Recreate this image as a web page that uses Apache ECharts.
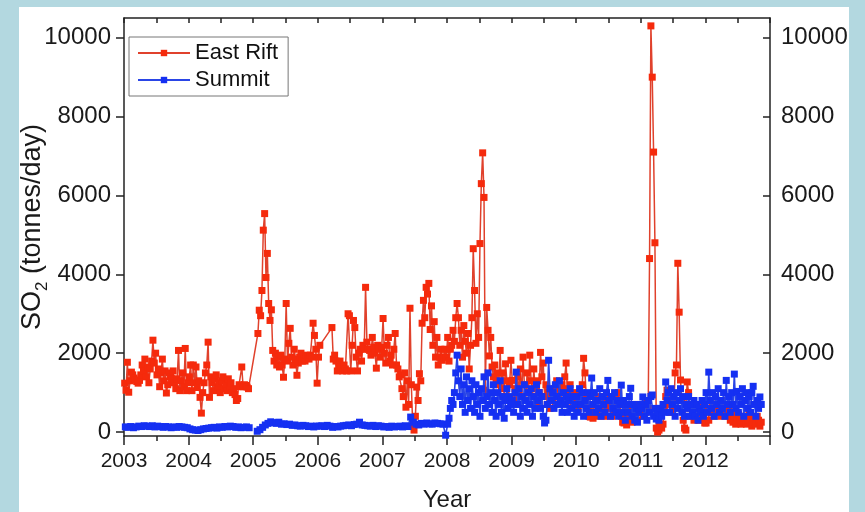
<!DOCTYPE html>
<html><head><meta charset="utf-8">
<script src="https://cdn.jsdelivr.net/npm/echarts@6/dist/echarts.min.js"></script>
<style>html,body{margin:0;padding:0;background:#b3d8e0}#c{width:865px;height:512px}</style>
</head><body><div id="c"></div>
<script>
// ---- Data ----
const years = [2003, 2004, 2005, 2006, 2007, 2008, 2009, 2010, 2011, 2012];
const yTickValues = [0, 2000, 4000, 6000, 8000, 10000];
const seriesNames = ['East Rift', 'Summit'];

// East Rift: 48 samples per year (null = no measurement, line bridges the gap)
const erPerYear = 48;
const er2003 = [1240,1060,1770,1010,1300,1520,1450,1370,1320,1280,1240,1310,1450,1700,1550,1850,1400,1650,1250,1600,1800,2330,1750,2000,1450,1600,1150,1500,1850,1300,1550,990,1200,1500,1400,1350,1550,1250,1100,1350,2070,1050,1300,1500,1150,2120,1050,1250];
const er2004 = [1400,1700,1050,1700,1250,1650,1130,1300,880,480,1000,1250,1500,1700,2280,880,1400,1250,1050,1350,1450,1150,1250,1000,1300,1400,1100,1200,1050,1350,1150,1250,1000,1100,950,800,850,1200,1150,1650,1150,1200,1180,1140,1100,null,null,null];
const er2005 = [null,null,null,2500,3090,2950,3590,5120,5540,3920,4530,3260,2830,3100,2070,1800,2000,1700,1900,1650,1950,1700,1390,1850,3260,1800,2250,2630,1900,1700,2100,1850,1440,1750,1900,2000,1800,1850,1800,1950,1900,1850,1950,1900,2760,2450,2100,1240];
const er2006 = [1900,2200,null,null,null,null,null,null,null,null,2650,1850,1950,1800,1550,1700,1800,1650,1550,1700,1600,1550,3000,2950,1550,2200,2830,2650,1900,1550,2000,2100,1800,2200,2100,3670,2280,2100,2070,1950,2400,2150,2000,1620,2200,2100,1900,2150];
const er2007 = [2880,2000,1750,2200,2400,1800,1950,1700,2100,2500,1700,1600,1400,1450,1100,900,1500,630,1300,700,3140,1200,200,50,400,1140,800,1480,1300,2760,3340,2900,3670,3500,3770,2600,3200,2200,2800,1900,2400,1700,1900,2100,1820,1900,2100,1900];
const er2008 = [2400,1800,2100,2200,2580,2300,2900,3260,2900,2200,2580,1900,2700,2300,2000,2500,1600,2200,2900,4650,3590,2250,3000,2400,4780,6300,7080,5950,1060,3160,2580,1930,2400,1650,1400,1700,1300,1500,1200,2070,1100,1500,900,1730,1300,800,1200,1820];
const er2009 = [1310,800,1100,700,1400,1000,1600,900,1900,1200,800,1500,1000,1950,1300,900,1600,1100,700,1300,1000,2020,1400,1750,900,1200,700,1000,600,900,800,1100,700,1300,900,1100,800,1200,1100,1400,1750,1000,800,1200,900,700,1000,800];
const er2010 = [900,600,1000,700,1200,1870,1500,900,600,400,380,700,350,900,500,800,400,600,900,500,700,400,800,600,900,700,400,800,500,900,600,1000,700,400,250,230,400,180,600,300,500,250,700,400,600,300,500,700];
const er2011 = [600,400,700,500,800,600,4400,10300,9000,7100,4800,100,0,50,150,100,200,600,900,1060,700,900,500,800,600,1500,1700,4280,3040,1320,800,300,100,50,1270,1000,600,400,700,300,500,400,600,300,500,700,400,230];
const er2012 = [230,600,300,800,500,700,400,900,600,500,700,400,800,600,500,700,400,600,300,450,250,400,200,350,450,300,200,400,250,350,200,300,450,250,150,350,250,200,400,300,150,250];

// Summit: 24 samples per year up to 2007, 48 per year from 2008 (null = gap)
const smPerYearEarly = 24;
const smPerYearLate = 48;
const sm2003 = [130,120,140,110,130,150,140,160,150,140,160,130,150,140,120,140,130,110,130,120,140,130,120,110];
const sm2004 = [80,60,50,40,60,80,90,100,110,120,100,130,120,140,130,150,140,120,130,110,120,130,110,null];
const sm2005 = [null,20,60,120,180,220,260,240,220,250,200,210,190,200,170,180,160,150,170,160,140,150,130,150];
const sm2006 = [150,160,140,170,150,120,140,130,150,160,170,180,160,190,200,250,180,170,160,150,170,140,160,150];
const sm2007 = [130,140,120,150,130,140,150,130,160,140,380,250,200,180,220,200,230,210,200,230,220,210,200,-80];
const sm2008 = [200,350,600,800,700,1000,1500,1950,1300,900,1600,700,1200,500,1400,800,1100,600,1300,900,500,1200,700,1000,400,1100,800,1400,600,900,1500,700,1000,500,1200,800,400,1000,700,1300,500,900,350,800,1100,600,900,700];
const sm2009 = [800,500,1000,1520,700,1100,400,900,600,1200,800,500,1000,700,1100,400,900,600,1200,800,1000,600,900,400,230,300,700,1820,1100,800,1000,600,1200,900,700,1300,800,500,1000,700,900,500,800,1100,600,900,400,700];
const sm2010 = [900,500,1100,700,1000,400,800,600,1000,500,900,1370,700,1000,500,800,600,1100,400,900,700,500,1000,1310,800,400,900,600,1000,500,800,400,700,1190,500,800,300,700,500,900,1110,400,700,300,600,250,500,700];
const sm2011 = [600,890,400,700,300,800,500,900,940,400,600,330,500,300,600,400,700,500,1270,800,1000,500,1100,700,900,400,1000,600,800,1100,500,900,400,700,600,900,400,700,500,800,400,700,300,600,500,800,400,700];
const sm2012 = [1000,500,1520,800,600,1000,400,900,700,1100,500,800,600,1000,400,1310,700,900,500,1000,700,1470,600,1030,500,900,700,1100,400,800,1000,600,900,500,1000,1160,700,400,800,600,890,700];

// ---- build [year, value] pairs ----
function pairs(year, vals, perYear) {
  return vals.map((v, i) => [year + (i + 0.5) / perYear, v]);
}
const erYears = [er2003, er2004, er2005, er2006, er2007, er2008, er2009, er2010, er2011, er2012];
const smYears = [sm2003, sm2004, sm2005, sm2006, sm2007, sm2008, sm2009, sm2010, sm2011, sm2012];
let erData = [], smData = [];
years.forEach((y, k) => {
  erData = erData.concat(pairs(y, erYears[k], erPerYear));
  smData = smData.concat(pairs(y, smYears[k], y < 2008 ? smPerYearEarly : smPerYearLate));
});

const FONT = '"Liberation Sans", Arial, Helvetica, sans-serif';
const AX = '#222';
const TXT = '#1a1a1a';
const chart = echarts.init(document.getElementById('c'), null, {renderer: 'canvas'});
const axisLineStyle = {color: AX, width: 1.5};

chart.setOption({
  animation: false,
  backgroundColor: '#b3d8e0',
  graphic: [{type: 'rect', silent: true, z: -10, shape: {x: 19, y: 7, width: 830, height: 505}, style: {fill: '#ffffff'}}],
  grid: {left: 124, right: 95, top: 18, bottom: 76, outerBoundsMode: 'none', containLabel: false},
  legend: {
    left: 129, top: 37, orient: 'vertical',
    backgroundColor: '#fff', borderColor: '#777', borderWidth: 1, borderRadius: 0,
    padding: [5, 10, 5, 8], itemGap: 5, itemWidth: 52, itemHeight: 8,
    textStyle: {fontSize: 22, fontFamily: FONT, color: '#111'},
    data: seriesNames
  },
  xAxis: [{
    type: 'value', position: 'bottom', min: years[0], max: years[years.length - 1] + 1, interval: 1,
    axisLine: {show: true, onZero: false, lineStyle: axisLineStyle},
    axisTick: {show: true, inside: false, length: 9, lineStyle: axisLineStyle},
    minorTick: {show: true, splitNumber: 2, length: 5, lineStyle: axisLineStyle},
    axisLabel: {fontSize: 21, fontFamily: FONT, color: TXT, margin: 15, showMaxLabel: false, formatter: v => String(v)},
    splitLine: {show: false}, minorSplitLine: {show: false},
    name: 'Year', nameLocation: 'middle', nameGap: 52, nameMoveOverlap: false,
    nameTextStyle: {fontSize: 24, fontFamily: FONT, color: TXT}
  }, {
    type: 'value', position: 'top', min: years[0], max: years[years.length - 1] + 1, interval: 1,
    axisLine: {show: true, onZero: false, lineStyle: axisLineStyle},
    axisTick: {show: true, inside: true, length: 5, lineStyle: axisLineStyle},
    minorTick: {show: true, splitNumber: 2, length: 5, lineStyle: axisLineStyle},
    axisLabel: {show: false}, splitLine: {show: false}, minorSplitLine: {show: false}
  }],
  yAxis: [{
    type: 'value', position: 'left', min: -100, max: 10500,
    axisLine: {show: true, onZero: false, lineStyle: axisLineStyle},
    axisTick: {show: true, inside: false, length: 8, lineStyle: axisLineStyle, customValues: yTickValues},
    axisLabel: {fontSize: 24, fontFamily: FONT, color: TXT, margin: 13, customValues: yTickValues, formatter: v => String(v)},
    splitLine: {show: false},
    name: '{a|SO}{b|2}{a| (tonnes/day)}', nameLocation: 'middle', nameGap: 76, nameRotate: 90, nameMoveOverlap: false,
    nameTextStyle: {
      fontSize: 27, fontFamily: FONT, color: TXT,
      rich: {
        a: {fontSize: 27, fontFamily: FONT, color: TXT, lineHeight: 30},
        b: {fontSize: 17, fontFamily: FONT, color: TXT, lineHeight: 17, padding: [18, 0, 0, 0]}
      }
    }
  }, {
    type: 'value', position: 'right', min: -100, max: 10500,
    axisLine: {show: true, onZero: false, lineStyle: axisLineStyle},
    axisTick: {show: true, inside: true, length: 7, lineStyle: axisLineStyle, customValues: yTickValues},
    axisLabel: {fontSize: 24, fontFamily: FONT, color: TXT, margin: 11, customValues: yTickValues, formatter: v => String(v)},
    splitLine: {show: false}
  }],
  series: [{
    name: seriesNames[0], type: 'line', xAxisIndex: 0, yAxisIndex: 0, data: erData,
    connectNulls: true, symbol: 'rect', symbolSize: 7, showSymbol: true,
    lineStyle: {color: '#e0412c', width: 1.5}, itemStyle: {color: '#f52a0c'}, z: 2
  }, {
    name: seriesNames[1], type: 'line', xAxisIndex: 0, yAxisIndex: 0, data: smData,
    connectNulls: false, symbol: 'rect', symbolSize: 7, showSymbol: true,
    lineStyle: {color: '#2a45e6', width: 1.6}, itemStyle: {color: '#1530f2'}, z: 3
  }]
});
</script></body></html>
